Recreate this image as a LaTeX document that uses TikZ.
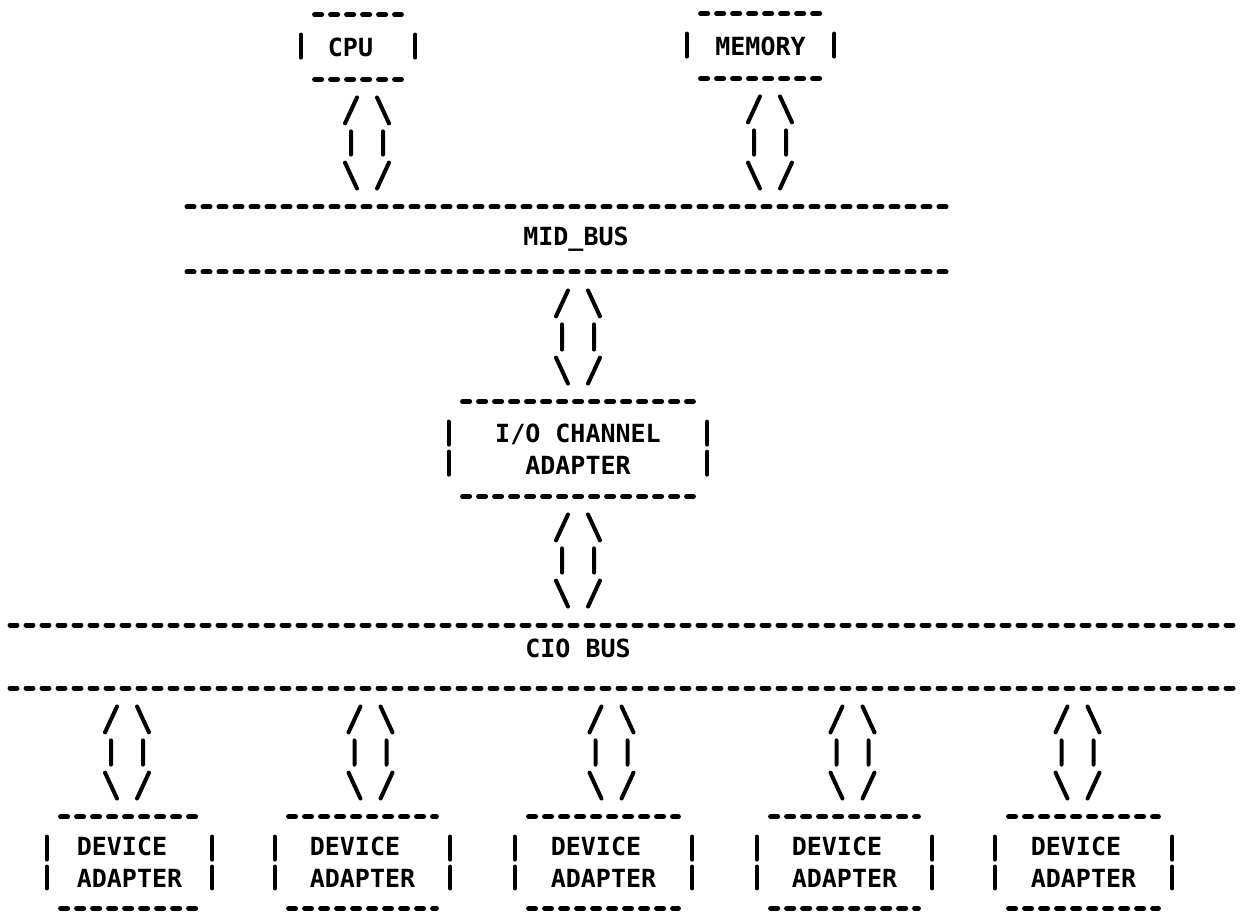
\documentclass[tikz,border=0pt]{standalone}
\usepackage{fontspec}
\setmonofont{DejaVu Sans Mono}
\usetikzlibrary{calc}

\tikzset{
	dots/.style = {line width = 2.5pt, line cap = round, dash pattern = on 3.5pt off 4.5pt},
	side/.style = {line width = 2pt, line cap = round, dash pattern = on 11.5pt off 3.5pt},
	bar/.style = {line width = 2pt, line cap = round},
	box/.style = {inner sep = 0pt, align = center, font = \ttfamily\bfseries\fontsize{12.5}{16}\selectfont},
	dbl/.style = {bar, to path = {let \p1 = (\tikztostart), \p2 = (\tikztotarget) in
		(\x1 - 5pt, \y1 - 9pt) -- (\x1 - 11pt, \y1 - 22pt)
		(\x1 + 5pt, \y1 - 9pt) -- (\x1 + 11pt, \y1 - 22pt)
		(\x1 - 8pt, \y1 - 26pt) -- (\x1 - 8pt, \y2 + 26pt)
		(\x1 + 8pt, \y1 - 26pt) -- (\x1 + 8pt, \y2 + 26pt)
		(\x1 - 11pt, \y2 + 22pt) -- (\x1 - 5pt, \y2 + 9pt)
		(\x1 + 11pt, \y2 + 22pt) -- (\x1 + 5pt, \y2 + 9pt)}}
}

\begin{document}
\begin{tikzpicture}[x = 0.5pt, y = -0.5pt]
		\useasboundingbox (0, 0) rectangle (1242, 914);
		%%%%%%%%%%%%%
		\node [box, minimum width = 57pt, minimum height = 32pt] (cpu) at (358, 47) {CPU\hphantom{U}};
		\node [box, minimum width = 73.5pt, minimum height = 32pt] (mem) at (760.5, 46) {MEMORY};
		\node [box, minimum height = 32.5pt] (midbus) at (576, 239.5) {MID\_BUS};
		\node [box, minimum width = 129pt, minimum height = 47pt] (io) at (578, 449) {I/O CHANNEL\\ADAPTER};
		\node [box, minimum height = 31.5pt, text depth = 8pt] (cio) at (578, 656.5) {CIO BUS};
		\foreach \i/\x/\w in {1/129.5/82.5, 2/362.5/87.5, 3/603.5/88.5, 4/844.5/87.5, 5/1083.5/88.5}
			\node [box, align = left, minimum width = \w pt, minimum height = 45.5pt] (dev\i) at (\x, 862.5) {DEVICE\\ADAPTER};
		%%%%%%%%%%%%%
		\foreach \n in {cpu, mem, io, dev1, dev2, dev3, dev4, dev5} {
			\draw [dots] ([xshift = 7pt]\n.north west) to ([xshift = -7pt]\n.north east);
			\draw [dots] ([xshift = 7pt]\n.south west) to ([xshift = -7pt]\n.south east);
			\draw [side] ([yshift = -10pt]\n.north west) to ([yshift = 10pt]\n.south west);
			\draw [side] ([yshift = -10pt]\n.north east) to ([yshift = 10pt]\n.south east);
		}
		\draw [dots] (187, 207) to (950, 207); \draw [dots] (187, 272) to (950, 272);
		\draw [dots] (10, 625) to (1242, 625); \draw [dots] (10, 688) to (1242, 688);
		%%%%%%%%%%%%%
		\draw [dbl] ([xshift = 4.5pt]cpu.south) to (midbus.north);
		\draw [dbl] ([xshift = 4.75pt]mem.south) to (midbus.north);
		\draw [dbl] (io.north |- midbus.south) to (io.north);
		\draw [dbl] (io.south) to (cio.north);
		\foreach \i/\s in {1/-1.25, 2/4, 3/4, 4/4, 5/-3}
			\draw [dbl] ([xshift = \s pt]dev\i.north |- cio.south) to (dev\i.north);
\end{tikzpicture}
\end{document}
